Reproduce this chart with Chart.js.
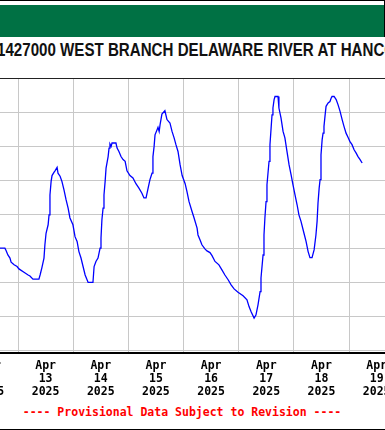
<!DOCTYPE html>
<html>
<head>
<meta charset="utf-8">
<script src="https://cdn.jsdelivr.net/npm/chart.js@4.4.1/dist/chart.umd.min.js"></script>
<style>
    html, body { margin: 0; padding: 0; background: #fff; }
    #page { position: relative; width: 385px; height: 430px; overflow: hidden; background: #fff; }
    #header { position: absolute; left: -10px; top: 0; width: 394px; height: 36px; border-top: 1px solid #000; border-right: 1px solid #000; }
    #band { position: absolute; left: 0; right: 0; top: 4px; bottom: 0; background: #007144; }
    /* no narrow font installed, so squeeze the sans bold */
    #title { position: absolute; left: -3px; top: 39px; white-space: nowrap; font: bold 18px/22px "Liberation Sans", Arial, sans-serif; color: #111; transform: scaleX(0.84); transform-origin: 0 50%; }
    #title .pre { position: absolute; right: 100%; }
    #plot { position: absolute; left: -100px; top: 70px; width: 560px; height: 330px; }
    #note { position: absolute; left: 0; top: 405px; width: 364px; text-align: center; font: bold 11.5px/14px "DejaVu Sans Mono", monospace; color: #f00; white-space: pre; }
    #foot { position: absolute; left: 0; top: 429px; width: 385px; height: 1px; background: #000; }
</style>
</head>
<body>
<div id="page">
    <div id="header"><div id="band"></div></div>
    <div id="title"><span class="pre">USGS 0</span>1427000 WEST BRANCH DELAWARE RIVER AT HANCOCK NY</div>
    <div id="plot"><canvas id="chart"></canvas></div>
    <div id="note">---- Provisional Data Subject to Revision ----</div>
    <div id="foot"></div>
</div>
<script>
// hours after Apr 13 00:00
const hours = [
    -9, -5.7, -5.2, -4.4, -3.5, -3.0, -1.7, -0.4, 0.4, 2.6, 4.4, 5.2, 6.5, 9.1, 9.6, 10.4, 11.3, 11.7,
    12.2, 13.1, 13.5, 13.9, 14.4, 14.8, 15.7, 16.1, 17.0, 17.4, 18.3, 19.1, 20.0, 20.9, 21.8, 22.6,
    23.9, 24.8, 25.7, 26.5, 27.4, 28.3, 29.2, 30.5, 32.6, 33.1, 33.9, 34.8, 35.7, 36.1, 36.5, 37.0,
    37.4, 37.9, 38.3, 39.2, 39.6, 40.0, 40.5, 40.9, 42.6, 43.1, 43.9, 44.8, 45.7, 46.6, 47.4, 48.7,
    50.0, 51.3, 52.6, 53.9, 54.8, 55.7, 56.6, 57.4, 58.3, 58.7, 59.2, 59.6, 60.5, 60.9, 61.4, 61.8,
    62.6, 63.9, 64.8, 66.1, 67.0, 67.9, 68.7, 69.6, 70.5, 71.4, 72.7, 73.5, 74.4, 75.7, 76.6, 77.9,
    78.3, 79.2, 80.0, 81.3, 82.2, 83.5, 84.4, 85.7, 87.4, 88.7, 90.0, 91.4, 92.7, 94.0, 95.7, 97.9,
    99.6, 100.5, 101.4, 102.7, 103.5, 104.4, 105.3, 105.7, 106.6, 107.0, 107.4, 107.9, 108.3, 109.2,
    109.6, 110.1, 110.5, 110.9, 111.4, 111.8, 113.1, 113.5, 114.4, 115.3, 116.1, 117.0, 117.9, 118.8,
    119.6, 120.5, 121.4, 122.2, 123.1, 124.4, 125.3, 126.2, 127.0, 127.9, 128.8, 129.6, 130.1, 130.5,
    131.0, 131.4, 131.8, 132.3, 132.7, 133.1, 133.6, 134.0, 134.9, 135.7, 136.2, 136.6, 137.5, 138.4,
    139.2, 140.1, 141.0, 141.8, 142.7, 143.6, 144.4, 145.3, 146.2, 147.1, 147.9, 148.8, 149.7
];

// discharge, ft3/s
const flow = [
    1300, 1300, 1293, 1280, 1271, 1259, 1251, 1246, 1239, 1229, 1221, 1218, 1209, 1209, 1221, 1243, 1271, 1310,
    1344, 1369, 1398, 1457, 1497, 1514, 1524, 1528, 1538, 1521, 1512, 1497, 1472, 1443, 1418, 1389,
    1369, 1334, 1320, 1290, 1271, 1246, 1221, 1199, 1199, 1246, 1261, 1271, 1300, 1330, 1384, 1418,
    1457, 1497, 1536, 1570, 1595, 1607, 1600, 1610, 1610, 1595, 1585, 1570, 1561, 1556, 1528, 1514,
    1507, 1490, 1477, 1462, 1448, 1448, 1477, 1502, 1521, 1570, 1600, 1634, 1649, 1656, 1644, 1664,
    1695, 1705, 1679, 1669, 1644, 1625, 1605, 1585, 1546, 1514, 1490, 1467, 1437, 1408, 1389, 1359,
    1339, 1324, 1310, 1298, 1292, 1287, 1278, 1261, 1251, 1236, 1221, 1207, 1192, 1180, 1170, 1160,
    1148, 1128, 1113, 1094, 1103, 1133, 1172, 1212, 1280, 1339, 1389, 1437, 1487, 1556,
    1605, 1654, 1693, 1713, 1738, 1747, 1747, 1713, 1684, 1644, 1625, 1585, 1546, 1516,
    1487, 1457, 1428, 1398, 1379, 1344, 1320, 1290, 1272, 1272, 1295, 1339, 1379, 1433,
    1477, 1502, 1575, 1620, 1639, 1659, 1693, 1718, 1728, 1732, 1742, 1747, 1747, 1738,
    1723, 1703, 1679, 1659, 1639, 1626, 1614, 1605, 1590, 1580, 1570, 1561, 1551
];

const yTicks = [1000, 1100, 1200, 1300, 1400, 1500, 1600, 1700, 1800];
const dayLabels = ['12', '13', '14', '15', '16', '17', '18', '19'];
const monthLabel = 'Apr';
const yearLabel = '2025';

const xMin = -36, xMax = 180;

const ctx = document.getElementById('chart');

new Chart(ctx, {
    type: 'line',
    data: {
        datasets: [{
            data: hours.map((h, i) => ({ x: h, y: flow[i] })),
            borderColor: '#0000ff',
            borderWidth: 1.3,
            pointRadius: 0,
            fill: false,
            tension: 0
        }]
    },
    options: {
        responsive: true,
        maintainAspectRatio: false,
        animation: false,
        events: [],
        layout: {
            padding: { left: 35.25, right: 28.2, top: 8.5, bottom: 0 }
        },
        plugins: {
            legend: { display: false },
            tooltip: { enabled: false }
        },
        scales: {
            x: {
                type: 'linear',
                min: xMin,
                max: xMax,
                afterBuildTicks: scale => {
                    scale.ticks = [];
                    for (let v = xMin; v <= xMax; v += 12) scale.ticks.push({ value: v });
                },
                afterFit: scale => { scale.height = 47; },
                grid: {
                    drawTicks: false,
                    color: c => (c.tick && c.tick.value % 24 === 0) ? '#c8c8c8' : 'rgba(0,0,0,0)'
                },
                border: { color: '#000', width: 2 },
                ticks: {
                    autoSkip: false,
                    maxRotation: 0,
                    minRotation: 0,
                    padding: 7,
                    color: '#000',
                    font: { family: 'DejaVu Sans Mono', size: 11.5, weight: 'bold', lineHeight: 1.13 },
                    callback: value => {
                        if ((value + 12) % 24 !== 0) return '';
                        const i = (value + 12) / 24;
                        return [monthLabel, dayLabels[i], yearLabel];
                    }
                }
            },
            xTop: {
                type: 'linear',
                position: 'top',
                min: xMin,
                max: xMax,
                ticks: { display: false },
                grid: { display: false, drawTicks: false },
                border: { color: '#222', width: 1 }
            },
            y: {
                min: 991.2,
                max: 1800,
                afterBuildTicks: scale => {
                    scale.ticks = yTicks.map(v => ({ value: v }));
                },
                ticks: { display: false },
                grid: { drawTicks: false, color: '#c8c8c8' },
                border: { display: false }
            }
        }
    }
});
</script>
</body>
</html>
